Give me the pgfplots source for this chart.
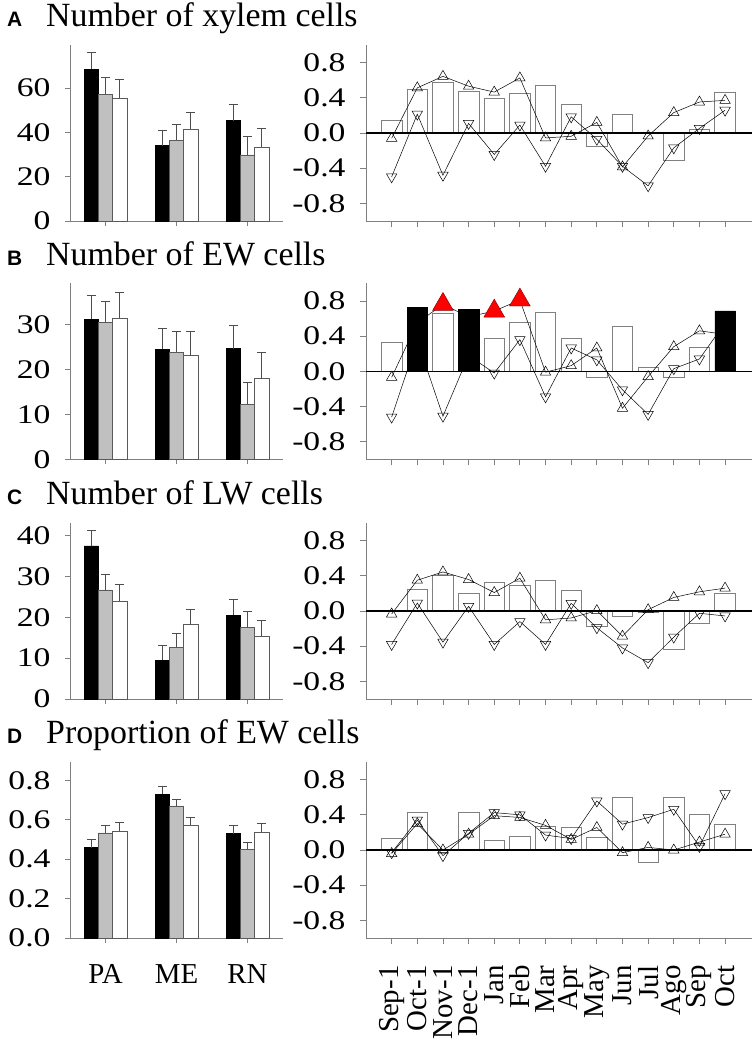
\documentclass[border=0pt]{standalone}
\usepackage{fontspec}
\setmainfont{Liberation Serif}
\newfontfamily\tickfam{Liberation Serif}[FakeStretch=1.25]
\newfontfamily\letfam{Liberation Sans}
\usepackage{pgfplots}
\pgfplotsset{compat=1.18}
\definecolor{barg}{RGB}{192,192,192}
\definecolor{axg}{RGB}{128,128,128}
\pgfplotsset{
 common/.style={scale only axis, height=176bp,
   axis x line*=bottom, axis y line*=left,
   axis line style={draw=axg, line width=0.9pt},
   tick style={draw=axg, line width=0.8pt},
   tick align=outside, major tick length=5bp,
   /pgf/number format/assume math mode=true,
   yticklabel style={font=\tickfam\fontsize{27}{28}\selectfont, xshift=-11bp},
   xticklabel style={font=\fontsize{29}{30}\selectfont},
   clip=false},
 leftax/.style={common, width=213bp, xmin=0.5, xmax=3.5, ymin=0,
   xtick={1,2,3}, xticklabels={}, bar width=0.2},
 rightax/.style={common, width=386bp, xmin=0, xmax=15.05, ymin=-1, ymax=1,
   xtick={1,...,14}, xticklabels={}, ytick={-0.8,-0.4,0,0.4,0.8},
   yticklabel style={/pgf/number format/fixed, /pgf/number format/fixed zerofill, /pgf/number format/precision=1},
   major tick length=6bp},
 bk/.style={ybar, bar shift=0, fill=black, draw=black, line width=0.6pt},
 gr/.style={ybar, bar shift=0, fill=barg, draw=axg!70!black, line width=0.6pt},
 wh/.style={ybar, bar shift=0, fill=white, draw=axg!70!black, line width=0.6pt},
 eb/.style={error bars/.cd, y dir=plus, y explicit,
   error bar style={draw=axg!60!black, line width=0.6pt},
   error mark options={rotate=90, draw=axg!60!black, mark size=4.5bp, line width=0.6pt}},
 rbar/.style={ybar, bar width=0.8, fill=white, draw=axg, line width=0.7pt},
 kbar/.style={ybar, bar width=0.8, fill=black, draw=black, line width=0.6pt},
 up/.style={black, line width=0.5pt, mark=triangle, mark size=6bp, mark options={solid, black, line width=0.5pt}},
 dn/.style={black, line width=0.5pt, mark=triangle, mark size=6bp, mark options={solid, black, rotate=180, line width=0.5pt}},
 zl/.style={black, line width=1.3pt, no marks},
}
\newcommand{\ttl}[3]{%
 \node[anchor=base west, inner sep=0pt, font=\letfam\bfseries\fontsize{21}{24}\selectfont] at (7bp,-#1bp) {#2};
 \node[anchor=base west, inner sep=0pt, font=\fontsize{34}{36}\selectfont] at (46bp,-#1bp) {#3};}
\begin{document}
\begin{tikzpicture}
\path[use as bounding box] (0,0) rectangle (756bp,-1047bp);
\ttl{26.5}{A}{Number of xylem cells}
\ttl{265}{B}{Number of EW cells}
\ttl{504}{C}{Number of LW cells}
\ttl{743.5}{D}{Proportion of EW cells}

% ---------- A left
\begin{axis}[leftax, at={(70bp,-221bp)}, anchor=south west, ymax=79.5, ytick={0,20,40,60}]
\addplot[bk, eb] coordinates {(0.8,68.6) +- (0,7.5) (1.8,34.0) +- (0,7.0) (2.8,45.3) +- (0,7.4)};
\addplot[gr, eb] coordinates {(1,57.2) +- (0,7.8) (2,36.4) +- (0,7.4) (3,29.9) +- (0,8.2)};
\addplot[wh, eb] coordinates {(1.2,55.5) +- (0,8.6) (2.2,41.4) +- (0,7.8) (3.2,33.3) +- (0,8.6)};
\end{axis}
% ---------- A right
\begin{axis}[rightax, at={(366bp,-221bp)}, anchor=south west]
\addplot[rbar] coordinates {(1,0.146) (2,0.495) (3,0.570) (4,0.468) (5,0.390) (6,0.450) (7,0.540) (8,0.326) (9,-0.146) (10,0.214) (11,0.01) (12,-0.307) (13,0.041) (14,0.457)};
\addplot[up] coordinates {(1,-0.06) (2,0.513) (3,0.644) (4,0.532) (5,0.465) (6,0.626) (7,-0.056) (8,-0.037) (9,0.12) (10,-0.386) (11,-0.034) (12,0.232) (13,0.352) (14,0.371)};
\addplot[dn] coordinates {(1,-0.498) (2,0.214) (3,-0.48) (4,0.109) (5,-0.244) (6,0.09) (7,-0.378) (8,0.184) (9,-0.071) (10,-0.378) (11,-0.6) (12,-0.169) (13,0.052) (14,0.259)};
\addplot[zl] coordinates {(0,0) (15.05,0)};
\end{axis}

% ---------- B left
\begin{axis}[leftax, at={(70bp,-459.3bp)}, anchor=south west, ymax=39.1, ytick={0,10,20,30}]
\addplot[bk, eb] coordinates {(0.8,31.1) +- (0,5.3) (1.8,24.5) +- (0,4.7) (2.8,24.6) +- (0,5.2)};
\addplot[gr, eb] coordinates {(1,30.5) +- (0,4.7) (2,23.8) +- (0,4.6) (3,12.2) +- (0,4.8)};
\addplot[wh, eb] coordinates {(1.2,31.4) +- (0,5.8) (2.2,23.0) +- (0,5.5) (3.2,17.9) +- (0,5.8)};
\end{axis}
% ---------- B right
\begin{axis}[rightax, at={(366bp,-459.3bp)}, anchor=south west]
\addplot[rbar] coordinates {(1,0.328) (3,0.659) (5,0.377) (6,0.557) (7,0.666) (8,0.377) (9,-0.064) (10,0.516) (11,0.049) (12,-0.064) (13,0.267)};
\addplot[up] coordinates {(1,-0.068) (2,0.55) (3,0.76) (4,0.62) (5,0.684) (6,0.81) (7,-0.01) (8,0.064) (9,0.265) (10,-0.42) (11,-0.06) (12,0.28) (13,0.46) (14,0.42)};
\addplot[dn] coordinates {(1,-0.52) (2,0.35) (3,-0.51) (4,0.18) (5,-0.02) (6,0.36) (7,-0.29) (8,0.265) (9,0.13) (10,-0.21) (11,-0.49) (12,0.03) (13,0.14) (14,0.55)};
\addplot[kbar] coordinates {(2,0.723) (4,0.704) (14,0.686)};
\addplot[only marks, mark=triangle*, mark size=12bp, mark options={fill=red, draw=red!50!black, line width=0.4pt}] coordinates {(3,0.76) (5,0.684) (6,0.81)};
\addplot[zl] coordinates {(0,0) (15.05,0)};
\end{axis}

% ---------- C left
\begin{axis}[leftax, at={(70bp,-699bp)}, anchor=south west, ymax=43.1, ytick={0,10,20,30,40}]
\addplot[bk, eb] coordinates {(0.8,37.5) +- (0,3.8) (1.8,9.5) +- (0,3.6) (2.8,20.5) +- (0,3.8)};
\addplot[gr, eb] coordinates {(1,26.7) +- (0,3.8) (2,12.7) +- (0,3.5) (3,17.6) +- (0,3.9)};
\addplot[wh, eb] coordinates {(1.2,24.0) +- (0,4.0) (2.2,18.2) +- (0,3.8) (3.2,15.4) +- (0,3.9)};
\end{axis}
% ---------- C right
\begin{axis}[rightax, at={(366bp,-699bp)}, anchor=south west]
\addplot[rbar] coordinates {(2,0.241) (3,0.407) (4,0.203) (5,0.331) (6,0.294) (7,0.35) (8,0.23) (9,-0.177) (10,-0.056) (11,-0.01) (12,-0.437) (13,-0.136) (14,0.203)};
\addplot[up] coordinates {(1,-0.034) (2,0.35) (3,0.444) (4,0.358) (5,0.21) (6,0.373) (7,-0.10) (8,-0.079) (9,0.004) (10,-0.286) (11,0.015) (12,0.154) (13,0.218) (14,0.26)};
\addplot[dn] coordinates {(1,-0.38) (2,0.09) (3,-0.354) (4,0.053) (5,-0.38) (6,-0.12) (7,-0.38) (8,0.087) (9,-0.19) (10,-0.42) (11,-0.587) (12,-0.297) (13,-0.026) (14,-0.056)};
\addplot[zl] coordinates {(0,0) (15.05,0)};
\end{axis}

% ---------- D left
\begin{axis}[leftax, at={(70bp,-938bp)}, anchor=south west, ymax=0.893, ytick={0,0.2,0.4,0.6,0.8},
  yticklabel style={/pgf/number format/fixed, /pgf/number format/fixed zerofill, /pgf/number format/precision=1},
  xticklabels={PA,ME,RN}, xticklabel style={yshift=-18bp}]
\addplot[bk, eb] coordinates {(0.8,0.458) +- (0,0.043) (1.8,0.729) +- (0,0.039) (2.8,0.529) +- (0,0.041)};
\addplot[gr, eb] coordinates {(1,0.533) +- (0,0.037) (2,0.670) +- (0,0.034) (3,0.450) +- (0,0.034)};
\addplot[wh, eb] coordinates {(1.2,0.542) +- (0,0.045) (2.2,0.572) +- (0,0.041) (3.2,0.536) +- (0,0.046)};
\end{axis}
% ---------- D right
\begin{axis}[rightax, at={(366bp,-938bp)}, anchor=south west,
  xticklabels={Sep-1,Oct-1,Nov-1,Dec-1,Jan,Feb,Mar,Apr,May,Jun,Jul,Ago,Sep,Oct},
  xticklabel style={yshift=-18bp, rotate=90, anchor=east}]
\addplot[rbar] coordinates {(1,0.132) (2,0.425) (4,0.425) (5,0.113) (6,0.158) (7,0.271) (8,0.256) (9,0.143) (10,0.602) (11,-0.143) (12,0.599) (13,0.407) (14,0.297)};
\addplot[up] coordinates {(1,-0.04) (2,0.30) (3,0.0) (4,0.18) (5,0.39) (6,0.37) (7,0.28) (8,0.12) (9,0.256) (10,-0.03) (11,0.03) (12,0.0) (13,0.09) (14,0.18)};
\addplot[dn] coordinates {(1,-0.03) (2,0.34) (3,-0.064) (4,0.19) (5,0.425) (6,0.40) (7,0.17) (8,0.13) (9,0.557) (10,0.294) (11,0.369) (12,0.463) (13,0.04) (14,0.64)};
\addplot[zl] coordinates {(0,0) (15.05,0)};
\end{axis}
\end{tikzpicture}
\end{document}
